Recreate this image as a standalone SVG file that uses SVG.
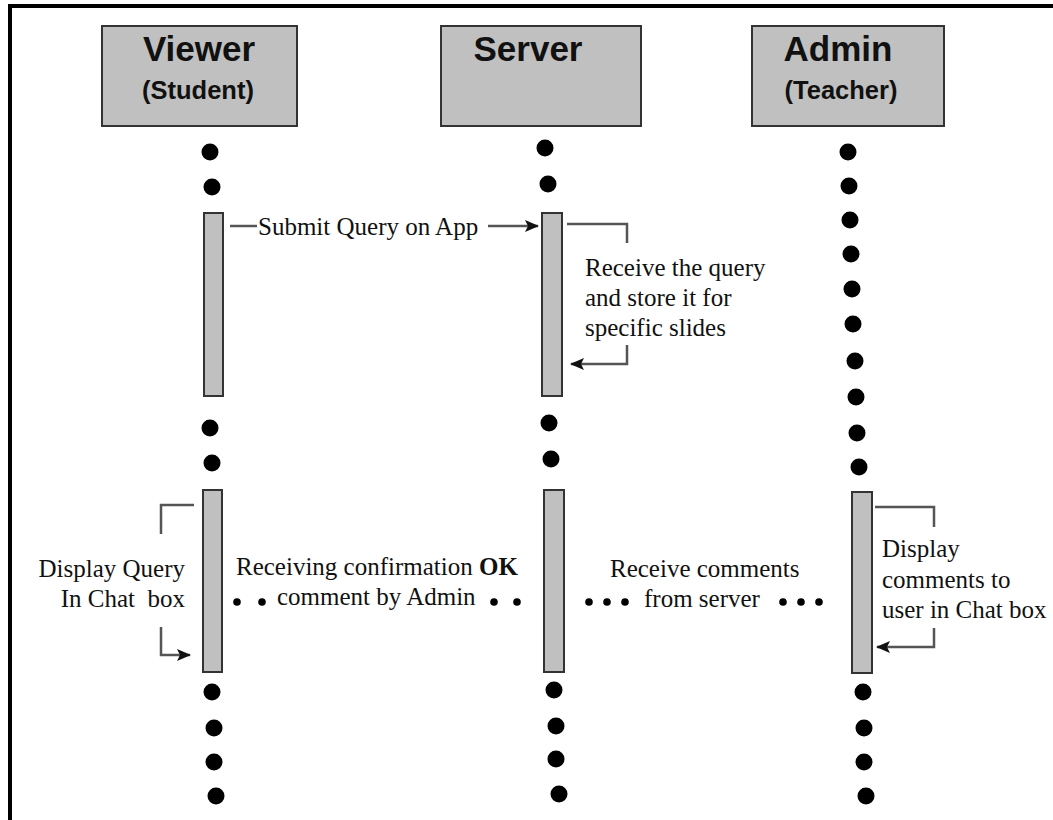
<svg xmlns="http://www.w3.org/2000/svg" width="1053" height="820" viewBox="0 0 1053 820">
<defs>
<style>
.hdr{fill:#c0c0c0;stroke:#333;stroke-width:2}
.bar{fill:#c0c0c0;stroke:#333;stroke-width:2}
.t1{font-family:"Liberation Sans",Arial,sans-serif;font-weight:bold;font-size:35px;fill:#111;text-anchor:middle}
.t2{font-family:"Liberation Sans",Arial,sans-serif;font-weight:bold;font-size:25.5px;fill:#111;text-anchor:middle}
.lbl{font-family:"Liberation Serif","Times New Roman",serif;font-size:25px;fill:#111;white-space:pre}
.ll{fill:#000}
.sd{fill:#000}
.ln{fill:none;stroke:#555;stroke-width:2.5}
</style>
<marker id="ah" markerWidth="14" markerHeight="12" refX="13" refY="6" orient="auto" markerUnits="userSpaceOnUse">
<path d="M0,0 L14,6 L0,12 L3,6 Z" fill="#111"/>
</marker>
</defs>
<rect width="1053" height="820" fill="#fff"/>
<path d="M10,820 V6 H1053" fill="none" stroke="#000" stroke-width="4"/>

<g id="viewer">
<rect class="hdr" x="102" y="26" width="195" height="100"/>
<text class="t1" x="199" y="61">Viewer</text>
<text class="t2" x="198" y="99">(Student)</text>
</g>
<g id="server">
<rect class="hdr" x="441" y="26" width="200" height="100"/>
<text class="t1" x="528" y="61">Server</text>
</g>
<g id="admin">
<rect class="hdr" x="752" y="26" width="192" height="100"/>
<text class="t1" x="838" y="61">Admin</text>
<text class="t2" x="841" y="99">(Teacher)</text>
</g>

<g id="lifelines">
<circle class="ll" cx="210" cy="152" r="8.5"/>
<circle class="ll" cx="212" cy="187" r="8.5"/>
<circle class="ll" cx="210" cy="428" r="8.5"/>
<circle class="ll" cx="212" cy="463" r="8.5"/>
<circle class="ll" cx="212" cy="692" r="8.5"/>
<circle class="ll" cx="214" cy="728" r="8.5"/>
<circle class="ll" cx="214" cy="762" r="8.5"/>
<circle class="ll" cx="216" cy="796" r="8.5"/>

<circle class="ll" cx="545" cy="148" r="8.5"/>
<circle class="ll" cx="548" cy="184" r="8.5"/>
<circle class="ll" cx="549" cy="423" r="8.5"/>
<circle class="ll" cx="551" cy="459" r="8.5"/>
<circle class="ll" cx="554" cy="690" r="8.5"/>
<circle class="ll" cx="556" cy="726" r="8.5"/>
<circle class="ll" cx="556" cy="759" r="8.5"/>
<circle class="ll" cx="559" cy="794" r="8.5"/>

<circle class="ll" cx="848" cy="152" r="8.5"/>
<circle class="ll" cx="849" cy="186" r="8.5"/>
<circle class="ll" cx="850" cy="220" r="8.5"/>
<circle class="ll" cx="851" cy="254" r="8.5"/>
<circle class="ll" cx="852" cy="289" r="8.5"/>
<circle class="ll" cx="853" cy="324" r="8.5"/>
<circle class="ll" cx="855" cy="361" r="8.5"/>
<circle class="ll" cx="856" cy="397" r="8.5"/>
<circle class="ll" cx="857" cy="433" r="8.5"/>
<circle class="ll" cx="859" cy="467" r="8.5"/>
<circle class="ll" cx="863" cy="692" r="8.5"/>
<circle class="ll" cx="864" cy="728" r="8.5"/>
<circle class="ll" cx="864" cy="762" r="8.5"/>
<circle class="ll" cx="866" cy="796" r="8.5"/>
</g>

<g id="activations">
<rect class="bar" x="204" y="213" width="19" height="183"/>
<rect class="bar" x="542" y="213" width="20" height="183"/>
<rect class="bar" x="203" y="490" width="19" height="182"/>
<rect class="bar" x="544" y="490" width="20" height="182"/>
<rect class="bar" x="852" y="492" width="20" height="181"/>
</g>

<g id="connectors">
<path class="ln" d="M230,226 H257"/>
<path class="ln" d="M488,226 H538" marker-end="url(#ah)"/>
<path class="ln" d="M567,224 H627 V243"/>
<path class="ln" d="M627,345 V364 H571" marker-end="url(#ah)"/>
<path class="ln" d="M194,505 H161 V534"/>
<path class="ln" d="M161,627 V655 H190" marker-end="url(#ah)"/>
<path class="ln" d="M875,507 H934 V527"/>
<path class="ln" d="M934,628 V647 H877" marker-end="url(#ah)"/>
<circle class="sd" cx="237" cy="602" r="3.8"/>
<circle class="sd" cx="262" cy="602" r="3.8"/>
<circle class="sd" cx="494" cy="602" r="3.8"/>
<circle class="sd" cx="517" cy="602" r="3.8"/>
<circle class="sd" cx="589" cy="602" r="3.8"/>
<circle class="sd" cx="607" cy="602" r="3.8"/>
<circle class="sd" cx="625" cy="602" r="3.8"/>
<circle class="sd" cx="783" cy="602" r="3.8"/>
<circle class="sd" cx="801" cy="602" r="3.8"/>
<circle class="sd" cx="819" cy="602" r="3.8"/>
</g>

<g id="labels">
<text class="lbl" x="258" y="235">Submit Query on App</text>
<text class="lbl" x="585" y="276">Receive the query</text>
<text class="lbl" x="585" y="306">and store it for</text>
<text class="lbl" x="585" y="336">specific slides</text>
<text class="lbl" x="185" y="577" text-anchor="end">Display Query</text>
<text class="lbl" x="185" y="607" text-anchor="end" xml:space="preserve">In Chat  box</text>
<text class="lbl" x="236" y="575">Receiving confirmation <tspan font-weight="bold">OK</tspan></text>
<text class="lbl" x="277" y="605">comment by Admin</text>
<text class="lbl" x="610" y="577">Receive comments</text>
<text class="lbl" x="644" y="607">from server</text>
<text class="lbl" x="882" y="557">Display</text>
<text class="lbl" x="882" y="588">comments to</text>
<text class="lbl" x="882" y="618">user in Chat box</text>
</g>
</svg>
